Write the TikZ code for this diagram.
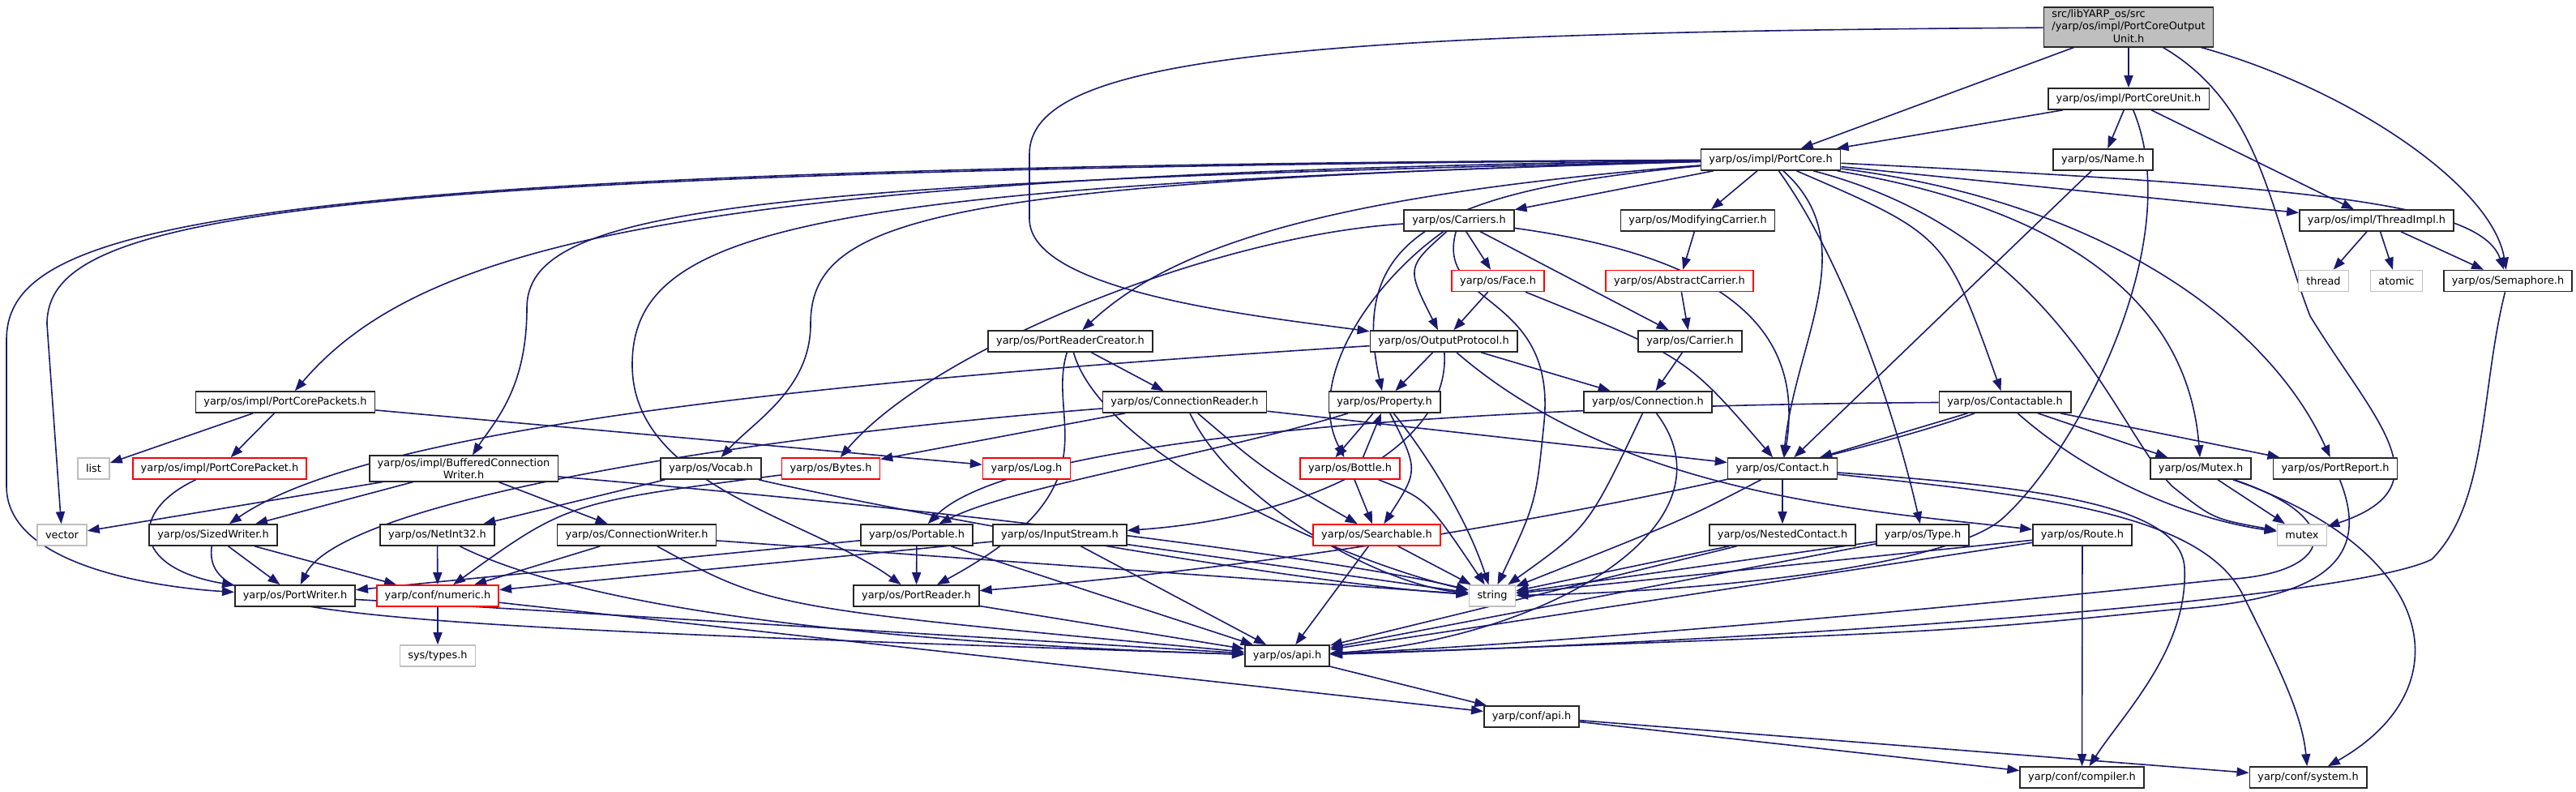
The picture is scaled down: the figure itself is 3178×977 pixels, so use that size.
\documentclass[tikz,border=0pt]{standalone}
\usepackage{fontspec}
\setmainfont{DejaVu Sans}
\usetikzlibrary{arrows.meta,backgrounds}
\definecolor{edgeblue}{HTML}{191970}
\definecolor{sysgrey}{HTML}{BFBFBF}
\newcommand{\dgfont}{\fontsize{12.9}{15.5}\selectfont}
\tikzset{
  hdr/.style={draw=black!85,line width=1.6pt,fill=white,minimum height=26pt,
    inner xsep=10pt,inner ysep=1pt,font=\dgfont},
  hdrred/.style={hdr,draw=red},
  sysinc/.style={hdr,draw=sysgrey},
  dep/.style={draw=edgeblue,line width=1.6pt,-{Triangle[length=15pt,width=11pt]}}
}

\begin{document}
\begin{tikzpicture}[x=1pt,y=-1pt]
  \useasboundingbox (0,0) rectangle (3178,977);
  % rows of the include graph
  \node[hdr,fill=sysgrey] (top) at (2626,33.5) {\begin{tabular}{@{}l@{}}src/libYARP\_os/src\\/yarp/os/impl/PortCoreOutput\\\multicolumn{1}{@{}c@{}}{Unit.h}\end{tabular}};
  \node[hdr] (pcunit) at (2626,122) {yarp/os/impl/PortCoreUnit.h};
  \node[hdr] (pcore) at (2184.5,197) {yarp/os/impl/PortCore.h};
  \node[hdr] (name) at (2594.5,197) {yarp/os/Name.h};
  \node[hdr] (carriers) at (1800,272) {yarp/os/Carriers.h};
  \node[hdr] (modcarrier) at (2094.5,272) {yarp/os/ModifyingCarrier.h};
  \node[hdr] (threadimpl) at (2932,272) {yarp/os/impl/ThreadImpl.h};
  \node[hdrred] (face) at (1848,346.5) {yarp/os/Face.h};
  \node[hdrred] (abscarrier) at (2072,346.5) {yarp/os/AbstractCarrier.h};
  \node[sysinc] (thread) at (2866.5,346.5) {thread};
  \node[sysinc] (atomic) at (2956.5,346.5) {atomic};
  \node[hdr] (semaphore) at (3094,346.5) {yarp/os/Semaphore.h};
  \node[hdr] (prcreator) at (1320.5,421) {yarp/os/PortReaderCreator.h};
  \node[hdr] (outproto) at (1781,421) {yarp/os/OutputProtocol.h};
  \node[hdr] (carrier) at (2085,421) {yarp/os/Carrier.h};
  \node[hdr] (pcpackets) at (352,496) {yarp/os/impl/PortCorePackets.h};
  \node[hdr] (connreader) at (1461.5,496) {yarp/os/ConnectionReader.h};
  \node[hdr] (property) at (1708,496) {yarp/os/Property.h};
  \node[hdr] (connection) at (2033,496) {yarp/os/Connection.h};
  \node[hdr] (contactable) at (2473.5,496) {yarp/os/Contactable.h};
  \node[sysinc] (list) at (115.5,578) {list};
  \node[hdrred] (pcpacket) at (271,578) {yarp/os/impl/PortCorePacket.h};
  \node[hdr,align=center,inner ysep=3pt] (bcwriter) at (572,578) {yarp/os/impl/BufferedConnection\\Writer.h};
  \node[hdr] (vocab) at (877,578) {yarp/os/Vocab.h};
  \node[hdrred] (bytes) at (1025,578) {yarp/os/Bytes.h};
  \node[hdrred] (log) at (1266.5,578) {yarp/os/Log.h};
  \node[hdrred] (bottle) at (1665.5,578) {yarp/os/Bottle.h};
  \node[hdr] (contact) at (2199,578) {yarp/os/Contact.h};
  \node[hdr] (mutexh) at (2715,578) {yarp/os/Mutex.h};
  \node[hdr] (portreport) at (2881,578) {yarp/os/PortReport.h};
  \node[sysinc] (vector) at (76.5,660) {vector};
  \node[hdr] (sizedwriter) at (263,660) {yarp/os/SizedWriter.h};
  \node[hdr] (netint) at (539.5,660) {yarp/os/NetInt32.h};
  \node[hdr] (connwriter) at (785.5,660) {yarp/os/ConnectionWriter.h};
  \node[hdr] (portable) at (1131,660) {yarp/os/Portable.h};
  \node[hdr] (inputstream) at (1307.5,660) {yarp/os/InputStream.h};
  \node[hdrred] (searchable) at (1698.5,660) {yarp/os/Searchable.h};
  \node[hdr] (nestedcontact) at (2199,660) {yarp/os/NestedContact.h};
  \node[hdr] (type) at (2372,660) {yarp/os/Type.h};
  \node[hdr] (route) at (2569,660) {yarp/os/Route.h};
  \node[sysinc] (mutex) at (2840,660) {mutex};
  \node[hdr] (portwriter) at (364,735) {yarp/os/PortWriter.h};
  \node[hdrred] (numeric) at (540,735) {yarp/conf/numeric.h};
  \node[hdr] (portreader) at (1130.5,735) {yarp/os/PortReader.h};
  \node[sysinc] (string) at (1841,735) {string};
  \node[sysinc] (systypes) at (540,809) {sys/types.h};
  \node[hdr] (osapi) at (1588,809) {yarp/os/api.h};
  \node[hdr] (confapi) at (1889.5,884) {yarp/conf/api.h};
  \node[hdr] (compiler) at (2568.5,959) {yarp/conf/compiler.h};
  \node[hdr] (system) at (2847.5,959) {yarp/conf/system.h};

  \begin{scope}[on background layer]
  % from the file itself
  \draw[dep] (top) -- (pcunit);
  \draw[dep] (top) -- (pcore);
  \draw[dep] (top) .. controls (1600,40) and (1270,70) .. (1270,190) -- (1270,270) .. controls (1270,360) and (1550,390) .. (outproto);
  \draw[dep] (top) .. controls (2790,130) and (2800,260) .. (2850,390) .. controls (2930,520) and (3020,600) .. (mutex);
  \draw[dep] (top) .. controls (2900,110) and (3075,230) .. (semaphore);
  \draw[dep] (pcunit) -- (pcore);
  \draw[dep] (pcunit) -- (name);
  \draw[dep] (pcunit) -- (threadimpl);
  \draw[dep] (pcunit) .. controls (2700,300) and (2560,560) .. (2470,640) .. controls (2400,700) and (2100,730) .. (string);
  \draw[dep] (name) -- (contact);
  \draw[dep] (threadimpl) -- (thread);
  \draw[dep] (threadimpl) -- (atomic);
  \draw[dep] (threadimpl) -- (semaphore);
  % PortCore.h
  \draw[dep] (pcore) -- (carriers);
  \draw[dep] (pcore) -- (modcarrier);
  \draw[dep] (pcore) -- (threadimpl);
  \draw[dep] (pcore) .. controls (2850,230) and (3060,250) .. (semaphore);
  \draw[dep] (pcore) .. controls (2600,250) and (2800,400) .. (portreport);
  \draw[dep] (pcore) .. controls (2560,260) and (2700,380) .. (mutexh);
  \draw[dep] (pcore) .. controls (2400,290) .. (contactable);
  \draw[dep] (pcore) .. controls (2280,330) and (2340,520) .. (type);
  \draw[dep] (pcore) .. controls (2300,300) and (2215,420) .. (contact);
  \draw[dep] (pcore) .. controls (2540,290) and (2610,530) .. (2680,600) .. controls (2730,640) .. (mutex);
  \draw[dep] (pcore) .. controls (1760,235) and (1665,300) .. (property);
  \draw[dep] (pcore) .. controls (1650,240) and (1450,300) .. (prcreator);
  \draw[dep] (pcore) .. controls (1150,225) and (1000,270) .. (1000,400) .. controls (1000,480) and (930,520) .. (vocab);
  \draw[dep] (pcore) .. controls (850,215) and (520,300) .. (pcpackets);
  \draw[dep] (pcore) .. controls (900,225) and (650,260) .. (650,380) .. controls (650,480) and (610,520) .. (bcwriter);
  \draw[dep] (pcore) .. controls (320,210) and (58,270) .. (58,400) -- (vector);
  \draw[dep] (pcore) .. controls (250,205) and (8,280) .. (8,420) -- (8,600) .. controls (8,700) and (200,725) .. (portwriter);
  \draw[dep] (pcore) .. controls (1000,230) and (780,280) .. (780,450) .. controls (780,600) and (1000,640) .. (portreader);
  % Carriers.h and friends
  \draw[dep] (carriers) .. controls (1500,290) and (1150,430) .. (bytes);
  \draw[dep] (carriers) .. controls (1690,350) and (1610,470) .. (bottle);
  \draw[dep] (carriers) .. controls (1735,330) .. (outproto);
  \draw[dep] (carriers) -- (face);
  \draw[dep] (carriers) -- (carrier);
  \draw[dep] (carriers) .. controls (2150,320) and (2225,420) .. (contact);
  \draw[dep] (carriers) .. controls (1770,380) and (1920,360) .. (1905,520) .. controls (1895,620) .. (string);
  \draw[dep] (face) -- (outproto);
  \draw[dep] (face) .. controls (2080,440) .. (contact);
  \draw[dep] (modcarrier) -- (abscarrier);
  \draw[dep] (abscarrier) -- (carrier);
  \draw[dep] (carrier) -- (connection);
  % OutputProtocol.h
  \draw[dep] (outproto) -- (property);
  \draw[dep] (outproto) -- (connection);
  \draw[dep] (outproto) .. controls (1000,470) and (450,530) .. (sizedwriter);
  \draw[dep] (outproto) .. controls (1790,560) and (1600,640) .. (inputstream);
  \draw[dep] (outproto) .. controls (2000,610) and (2300,630) .. (route);
  % PortReaderCreator.h, PortCorePackets.h
  \draw[dep] (prcreator) -- (connreader);
  \draw[dep] (prcreator) .. controls (1360,560) and (1650,690) .. (string);
  \draw[dep] (prcreator) .. controls (1290,520) and (1380,600) .. (portreader);
  \draw[dep] (pcpackets) -- (list);
  \draw[dep] (pcpackets) -- (pcpacket);
  \draw[dep] (pcpackets) -- (log);
  \draw[dep] (pcpacket) .. controls (160,630) and (160,700) .. (portwriter);
  % Property.h, Bottle.h
  \draw[dep] ([xshift=-14pt]property.south) -- ([xshift=-18pt]bottle.north);
  \draw[dep] ([xshift=16pt]bottle.north) -- ([xshift=-4pt]property.south);
  \draw[dep] (property) .. controls (1750,580) .. (searchable);
  \draw[dep] (property) .. controls (1760,560) and (1810,640) .. (string);
  \draw[dep] (property) .. controls (1500,560) and (1250,600) .. (portable);
  \draw[dep] (bottle) -- (searchable);
  \draw[dep] (bottle) .. controls (1760,615) .. (string);
  % Connection.h, ConnectionReader.h
  \draw[dep] (connection) .. controls (1960,650) .. (string);
  \draw[dep] (connection) .. controls (2150,650) and (1900,790) .. (osapi);
  \draw[dep] (connreader) -- (contact);
  \draw[dep] (connreader) -- (bytes);
  \draw[dep] (connreader) .. controls (1560,580) .. (searchable);
  \draw[dep] (connreader) .. controls (1520,620) and (1700,720) .. (string);
  \draw[dep] (connreader) .. controls (900,540) and (420,620) .. (portwriter);
  % Contactable.h, Contact.h
  \draw[dep] (contactable) -- (contact);
  \draw[dep] (contactable) -- (mutexh);
  \draw[dep] (contactable) -- (portreport);
  \draw[dep] (contactable) .. controls (2580,590) and (2700,640) .. (mutex);
  \draw[dep] (contactable) .. controls (2300,560) and (1800,680) .. (portreader);
  \draw[dep] (contactable) .. controls (1800,500) and (1250,540) .. (portable);
  \draw[dep] (contact) -- (nestedcontact);
  \draw[dep] (contact) .. controls (2080,640) .. (string);
  \draw[dep] (contact) .. controls (2500,600) and (2690,620) .. (2695,700) .. controls (2700,800) and (2620,880) .. (compiler);
  \draw[dep] (contact) .. controls (2500,610) and (2710,630) .. (2765,730) .. controls (2810,820) and (2840,880) .. (system);
  \draw[dep] (nestedcontact) -- (string);
  \draw[dep] (nestedcontact) -- (osapi);
  \draw[dep] (type) -- (string);
  \draw[dep] (type) -- (osapi);
  \draw[dep] (route) -- (compiler);
  \draw[dep] (route) -- (string);
  \draw[dep] (route) -- (osapi);
  \draw[dep] (mutexh) -- (mutex);
  \draw[dep] (mutexh) .. controls (2900,640) and (2880,710) .. (2740,715) .. controls (2600,730) and (2000,790) .. (osapi);
  \draw[dep] (mutexh) .. controls (3010,680) and (3040,850) .. (system);
  \draw[dep] (portreport) .. controls (2930,700) and (2850,740) .. (2680,752) .. controls (2400,780) .. (osapi);
  \draw[dep] (semaphore) .. controls (3060,480) and (3070,620) .. (3000,690) .. controls (2900,740) and (2200,790) .. (osapi);
  % lower left part
  \draw[dep] (bcwriter) -- (vector);
  \draw[dep] (bcwriter) -- (sizedwriter);
  \draw[dep] (bcwriter) -- (connwriter);
  \draw[dep] (bcwriter) .. controls (1300,640) and (1700,700) .. (string);
  \draw[dep] (vocab) -- (netint);
  \draw[dep] (vocab) .. controls (1100,630) and (1600,720) .. (string);
  \draw[dep] (bytes) .. controls (700,620) .. (numeric);
  \draw[dep] (sizedwriter) -- (portwriter);
  \draw[dep] (sizedwriter) -- (numeric);
  \draw[dep] (sizedwriter) .. controls (250,760) and (400,770) .. (osapi);
  \draw[dep] (netint) -- (numeric);
  \draw[dep] (netint) .. controls (700,740) and (1000,790) .. (osapi);
  \draw[dep] (connwriter) -- (numeric);
  \draw[dep] (connwriter) .. controls (950,750) .. (osapi);
  \draw[dep] (connwriter) -- (string);
  \draw[dep] (portable) -- (portreader);
  \draw[dep] (portable) -- (portwriter);
  \draw[dep] (portable) -- (osapi);
  \draw[dep] (inputstream) -- (numeric);
  \draw[dep] (inputstream) -- (osapi);
  \draw[dep] (inputstream) -- (string);
  \draw[dep] (portwriter) -- (osapi);
  \draw[dep] (numeric) -- (systypes);
  \draw[dep] (numeric) -- (confapi);
  \draw[dep] (portreader) -- (osapi);
  \draw[dep] (searchable) -- (string);
  \draw[dep] (searchable) -- (osapi);
  \draw[dep] (osapi) -- (confapi);
  \draw[dep] (confapi) -- (compiler);
  \draw[dep] (confapi) -- (system);
  \end{scope}
\end{tikzpicture}
\end{document}
